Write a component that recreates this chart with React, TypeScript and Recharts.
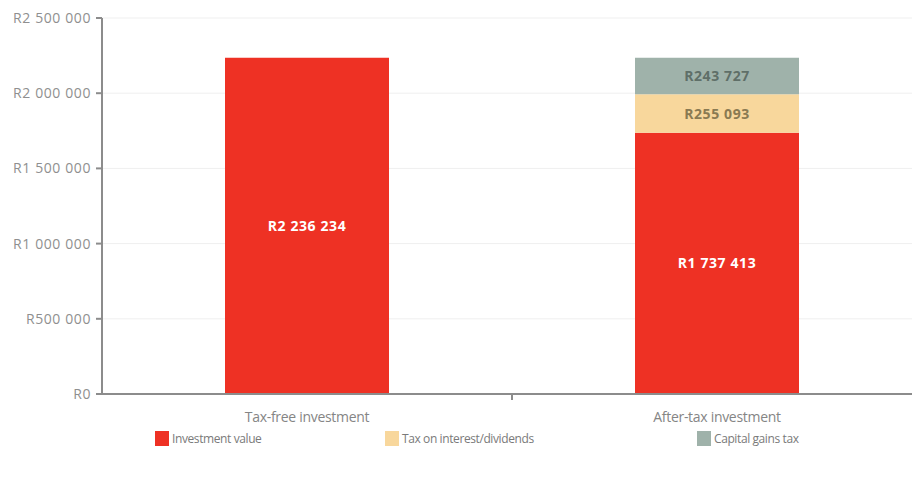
import { BarChart, Bar, XAxis, YAxis, CartesianGrid, Legend, LabelList, ReferenceLine } from 'recharts';

const categories = ['Tax-free investment', 'After-tax investment'];
const investmentValue = [2236234, 1737413];
const taxOnInterest = [0, 255093];
const capitalGainsTax = [0, 243727];
const yTicks = [0, 500000, 1000000, 1500000, 2000000, 2500000];

const series = [
  { key: 'invest', name: 'Investment value', color: '#ee3124', text: '#ffffff' },
  { key: 'interest', name: 'Tax on interest/dividends', color: '#f8d79c', text: '#8a7a52' },
  { key: 'cgt', name: 'Capital gains tax', color: '#9fb2aa', text: '#5f6f68' },
];

const data = categories.map((c, i) => ({
  name: c,
  pos: i + 0.5,
  invest: investmentValue[i],
  interest: taxOnInterest[i],
  cgt: capitalGainsTax[i],
}));

const rand = (v: number) => 'R' + v.toLocaleString('en-US').replace(/,/g, ' ');

const FONT = '"Open Sans", "Noto Sans", sans-serif';

function LegendRow() {
  const widths = [230, 312, 150];
  return (
    <div style={{ display: 'flex', paddingLeft: 155, fontFamily: FONT, fontSize: 12, color: '#7a7a7a', letterSpacing: -0.4 }}>
      {series.map((s, i) => (
        <div key={s.key} style={{ width: widths[i], display: 'flex', alignItems: 'center' }}>
          <span style={{ width: 14, height: 15, background: s.color, marginRight: 3, display: 'inline-block' }} />
          {s.name}
        </div>
      ))}
    </div>
  );
}

const segLabel = (color: string) => (props: any) => {
  const { x, y, width, height, value } = props;
  if (!value) return null;
  return (
    <text x={x + width / 2} y={y + height / 2} dy={5} textAnchor="middle" fill={color}
      fontSize={14} fontWeight={700} letterSpacing={0.6} fontFamily={FONT}>
      {rand(value)}
    </text>
  );
};

export default function App() {
  return (
    <div style={{ position: 'absolute', left: 0, top: 0, width: 912, height: 477, overflow: 'hidden', background: '#fff' }}>
      <BarChart width={922} height={477} data={data} margin={{ top: 18, right: 0, bottom: 0, left: 0 }}
        barCategoryGap="30%">
        <CartesianGrid horizontal vertical={false} stroke="#efefef" xAxisId="cat" />
        <XAxis xAxisId="mid" dataKey="pos" type="number" domain={[0, 2]} ticks={[1]} allowDataOverflow
          height={0} axisLine={false} tick={() => <g />} tickLine={{ stroke: '#8c8c8c', strokeWidth: 2 }} tickSize={6} />
        <XAxis xAxisId="cat" dataKey="name" height={36} axisLine={{ stroke: '#8c8c8c', strokeWidth: 2 }}
          tickLine={false} tick={{ fill: '#858585', fontSize: 14, fontFamily: FONT, letterSpacing: -0.3 }} dy={10} />
        <YAxis domain={[0, 2500000]} ticks={yTicks} width={102} tickFormatter={rand}
          axisLine={{ stroke: '#8c8c8c', strokeWidth: 2 }} tickLine={{ stroke: '#8c8c8c', strokeWidth: 2 }} tickSize={6}
          tick={{ fill: '#8f8f8f', fontSize: 14, fontFamily: FONT, letterSpacing: 0.6, dx: -3 }} />
        <Legend verticalAlign="bottom" height={47} content={() => <LegendRow />} />
        {series.map(s => (
          <Bar key={s.key} xAxisId="cat" dataKey={s.key} name={s.name} stackId="a" fill={s.color} isAnimationActive={false}>
            <LabelList dataKey={s.key} content={segLabel(s.text)} />
          </Bar>
        ))}
        <ReferenceLine xAxisId="mid" segment={[{ x: 1, y: 0 }, { x: 1, y: -40000 }]}
          stroke="#8c8c8c" strokeWidth={2} ifOverflow="visible" />
      </BarChart>
    </div>
  );
}
